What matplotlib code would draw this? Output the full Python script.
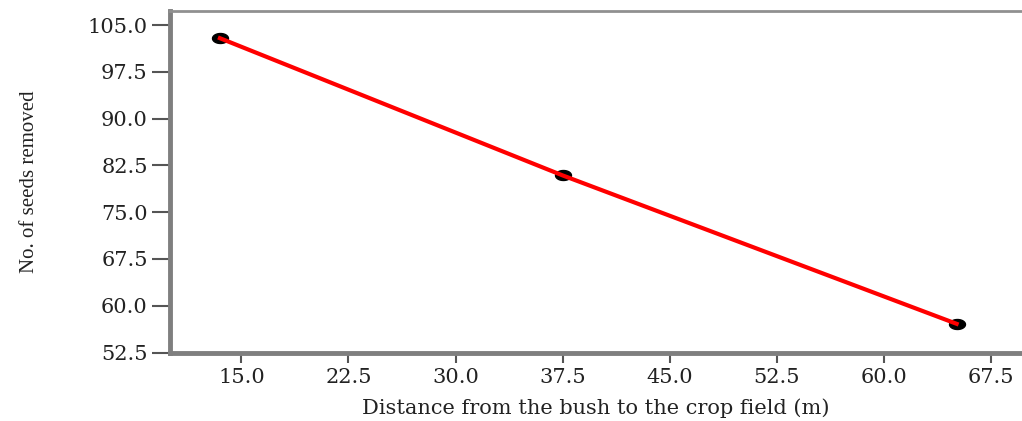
import numpy as np
import matplotlib.pyplot as plt
from matplotlib.path import Path

# data
distance = [13.5, 37.5, 65.1]
seeds_removed = [102.9, 80.9, 57.1]
x_ticks = [15.0, 22.5, 30.0, 37.5, 45.0, 52.5, 60.0, 67.5]
y_ticks = [52.5, 60.0, 67.5, 75.0, 82.5, 90.0, 97.5, 105.0]

plt.rcParams['font.family'] = ['DejaVu Serif']

# the original picture is stretched sideways, so the dots are ellipses
t = np.linspace(0, 2 * np.pi, 40)
ellipse = Path(np.column_stack([1.6 * np.cos(t), np.sin(t)]), closed=True)

fig = plt.figure(figsize=(10.22, 4.21), dpi=100)
ax = fig.add_axes([0.1663, 0.1627, 0.834, 0.811])

# markers sit under the red line
ax.plot(distance, seeds_removed, ls='none', marker=ellipse, color='black',
        markersize=11.5, zorder=2)
ax.plot(distance, seeds_removed, '-', color='#ff0000', lw=3, zorder=3)

ax.set_xlim(10.0, 69.7)
ax.set_ylim(52.5, 107.25)
ax.set_xticks(x_ticks)
ax.set_yticks(y_ticks)
ax.set_xticklabels(['%.1f' % v for v in x_ticks], fontsize=15)
ax.set_yticklabels(['%.1f' % v for v in y_ticks], fontsize=15)
ax.tick_params(axis='both', colors='#555555', labelcolor='#222222', width=1.5)
ax.tick_params(axis='y', length=13, pad=3)
ax.tick_params(axis='x', length=7, pad=4)

ax.set_xlabel('Distance from the bush to the crop field (m)', fontsize=15,
              color='#222222', labelpad=8)
ax.set_ylabel('No. of seeds removed', fontsize=15, color='#222222',
              family='Liberation Serif')
ax.yaxis.set_label_coords(-0.154, 0.5)

# spines: thick grey left/bottom, thin top, no right
for side in ['left', 'bottom']:
    ax.spines[side].set_color('#7f7f7f')
    ax.spines[side].set_linewidth(3.5)
ax.spines['top'].set_color('#909090')
ax.spines['top'].set_linewidth(2)
ax.spines['right'].set_visible(False)

fig.savefig('out.png', dpi=100)
